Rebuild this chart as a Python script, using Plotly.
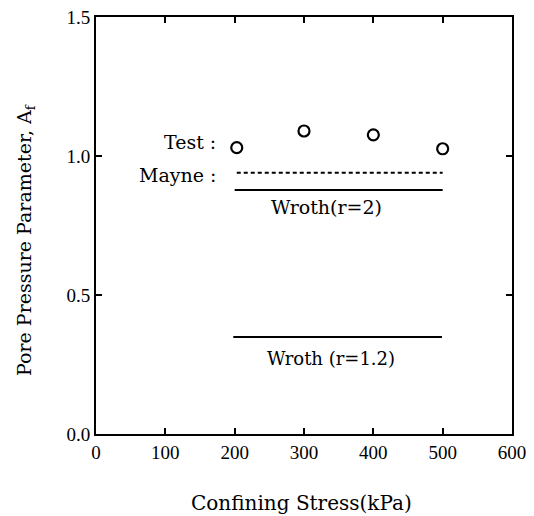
import plotly.graph_objects as go

# Data
stress_test = [203, 300, 400, 500]
af_test = [1.03, 1.09, 1.076, 1.026]

mayne_x = [203, 500]
mayne_y = [0.94, 0.94]

wroth2_x = [200, 500]
wroth2_y = [0.878, 0.878]

wroth12_x = [198, 499]
wroth12_y = [0.349, 0.349]

x_ticks = [0, 100, 200, 300, 400, 500, 600]
y_ticks = [0.0, 0.5, 1.0, 1.5]
y_tick_labels = ["0.0", "0.5", "1.0", "1.5"]

SERIF = "DejaVu Serif"
TICKFONT = "Liberation Serif"

fig = go.Figure()
fig.add_trace(go.Scatter(x=stress_test, y=af_test, mode="markers",
                         marker=dict(symbol="circle-open", size=11, color="black",
                                     line=dict(width=2.2, color="black")),
                         showlegend=False))
fig.add_trace(go.Scatter(x=mayne_x, y=mayne_y, mode="lines",
                         line=dict(color="black", width=2, dash="4px,3px"),
                         showlegend=False))
fig.add_trace(go.Scatter(x=wroth2_x, y=wroth2_y, mode="lines",
                         line=dict(color="black", width=2), showlegend=False))
fig.add_trace(go.Scatter(x=wroth12_x, y=wroth12_y, mode="lines",
                         line=dict(color="black", width=2), showlegend=False))

ann = [
    dict(x=176, y=1.05, xref="x", yref="y", text="Test :", xanchor="right",
         yanchor="middle", showarrow=False, font=dict(family=SERIF, size=19, color="black")),
    dict(x=176, y=0.932, xref="x", yref="y", text="Mayne :", xanchor="right",
         yanchor="middle", showarrow=False, font=dict(family=SERIF, size=19, color="black")),
    dict(x=332, y=0.817, xref="x", yref="y", text="Wroth(r=2)", xanchor="center",
         yanchor="middle", showarrow=False, font=dict(family=SERIF, size=19, color="black")),
    dict(x=339, y=0.27, xref="x", yref="y", text="Wroth (r=1.2)", xanchor="center",
         yanchor="middle", showarrow=False, font=dict(family=SERIF, size=18, color="black")),
    dict(x=0.495, y=-0.165, xref="paper", yref="paper", text="Confining Stress(kPa)",
         xanchor="center", yanchor="middle", showarrow=False,
         font=dict(family=SERIF, size=20, color="black")),
    dict(x=-0.171, y=0.465, xref="paper", yref="paper",
         text="Pore Pressure Parameter, A<sub>f</sub>", textangle=-90,
         xanchor="center", yanchor="middle", showarrow=False,
         font=dict(family=SERIF, size=19, color="black")),
]

fig.update_layout(
    width=526, height=508,
    margin=dict(l=88, r=22, t=9, b=82),
    paper_bgcolor="white", plot_bgcolor="white",
    annotations=ann,
    xaxis=dict(range=[0, 600], tickvals=x_ticks, ticks="inside", ticklen=6,
               tickwidth=1.5, tickcolor="black", showline=True, linewidth=2,
               linecolor="black", mirror="ticks", showgrid=False, zeroline=False,
               automargin=False, ticklabeloverflow="allow",
               tickfont=dict(family=TICKFONT, size=19, color="black")),
    yaxis=dict(range=[0, 1.5], tickvals=y_ticks, ticktext=y_tick_labels,
               ticks="inside", ticklen=6, tickwidth=1.5, tickcolor="black",
               showline=True, linewidth=2, linecolor="black", mirror="ticks",
               showgrid=False, zeroline=False, automargin=False,
               ticklabeloverflow="allow",
               tickfont=dict(family=TICKFONT, size=19, color="black")),
)

fig.write_html("out.html")
